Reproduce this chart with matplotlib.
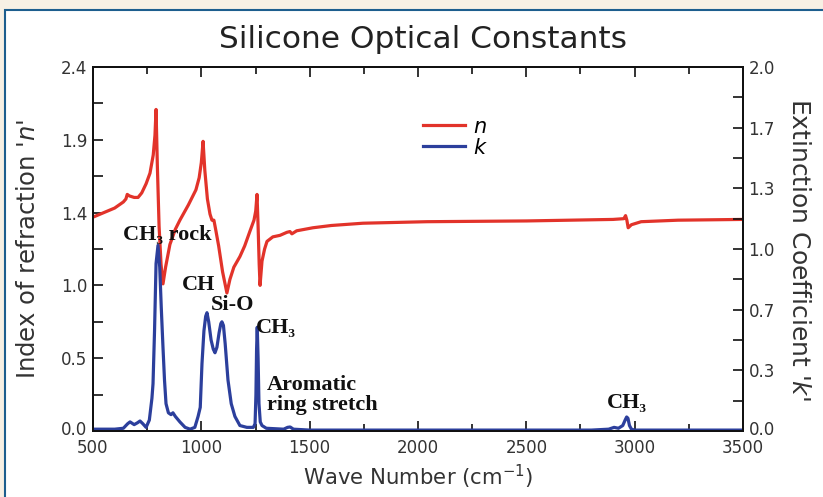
import matplotlib
matplotlib.use("Agg")
import matplotlib.pyplot as plt
from matplotlib.patches import Rectangle
from matplotlib.lines import Line2D
from matplotlib.ticker import FixedLocator, FixedFormatter
from matplotlib.transforms import ScaledTranslation

# ---------------- data ----------------
wn_n = [500, 550, 600, 640, 652, 658, 668, 690, 708, 725, 745, 763, 778, 786, 791,
        797, 805, 814, 823, 835, 855, 880, 901, 940, 975, 990, 1000, 1008,
        1016, 1028, 1040, 1049, 1058, 1066, 1080, 1098, 1118, 1132, 1150, 1178,
        1200, 1225, 1243, 1251, 1257, 1262, 1267, 1271, 1280, 1292, 1303, 1330,
        1363, 1395, 1409, 1418, 1440, 1515, 1600, 1746, 2041, 2500, 2900, 2950,
        2958, 2964, 2970, 2985, 3030, 3200, 3500]
n_vals = [1.41, 1.44, 1.47, 1.51, 1.53, 1.56, 1.55, 1.54, 1.54, 1.57, 1.63, 1.70, 1.82, 1.95, 2.12,
          1.75, 1.35, 1.10, 0.97, 1.08, 1.23, 1.33, 1.39, 1.49, 1.59, 1.67, 1.77, 1.91,
          1.72, 1.53, 1.43, 1.39, 1.39, 1.33, 1.22, 1.05, 0.91, 1.00, 1.08, 1.15,
          1.22, 1.32, 1.39, 1.45, 1.56, 1.35, 1.10, 0.96, 1.12, 1.20, 1.25, 1.28,
          1.29, 1.31, 1.315, 1.30, 1.32, 1.34, 1.355, 1.37, 1.38, 1.385, 1.395, 1.40,
          1.42, 1.39, 1.34, 1.36, 1.38, 1.39, 1.395]

wn_k = [500, 600, 640, 660, 671, 690, 705, 717, 730, 745, 760, 772, 777, 784, 791, 800,
        808, 815, 823, 830, 837, 848, 860, 869, 880, 901, 925, 948, 970, 985,
        995, 1003, 1012, 1020, 1026, 1034, 1045, 1055, 1063, 1072, 1082, 1090,
        1095, 1102, 1110, 1123, 1138, 1155, 1178, 1210, 1240, 1248, 1252, 1255,
        1258, 1262, 1266, 1272, 1280, 1300, 1380, 1398, 1410, 1425, 1500, 2800,
        2880, 2905, 2925, 2945, 2956, 2963, 2969, 2976, 2985, 3000, 3500]
k_vals = [0.01, 0.01, 0.015, 0.04, 0.05, 0.035, 0.045, 0.055, 0.04, 0.02, 0.06, 0.18, 0.26, 0.55, 0.92, 1.02,
          0.90, 0.68, 0.46, 0.28, 0.15, 0.10, 0.09, 0.10, 0.08, 0.05, 0.02, 0.01, 0.02, 0.08,
          0.13, 0.37, 0.55, 0.63, 0.65, 0.60, 0.50, 0.45, 0.43, 0.46, 0.54, 0.59,
          0.60, 0.58, 0.48, 0.28, 0.15, 0.08, 0.03, 0.02, 0.02, 0.04, 0.20, 0.45,
          0.57, 0.40, 0.15, 0.05, 0.03, 0.015, 0.01, 0.02, 0.022, 0.01, 0.005, 0.005,
          0.01, 0.02, 0.015, 0.03, 0.06, 0.077, 0.07, 0.03, 0.01, 0.005, 0.005]

x_ticks = [500, 1000, 1500, 2000, 2500, 3000, 3500]
x_labels = ["500", "1000", "1500", "2000", "2500", "3000", "3500"]
n_ticks = [0.0, 0.48, 0.96, 1.44, 1.92, 2.4]
n_labels = ["0.0", "0.5", "1.0", "1.4", "1.9", "2.4"]
k_ticks = [0.0, 1/3, 2/3, 1.0, 4/3, 5/3, 2.0]
k_labels = ["0.0", "0.3", "0.7", "1.0", "1.3", "1.7", "2.0"]

# annotation texts with their anchor in (wave number, k) units
ann_texts = ["CH\u2083 rock", "CH", "Si-O", "CH\u2083", "Aromatic\nring stretch", "CH\u2083"]
ann_x = [841, 985, 1146, 1252, 1303, 2964]
ann_y = [1.077, 0.80, 0.69, 0.566, 0.198, 0.154]
ann_ha = ["center", "center", "center", "left", "left", "center"]

# ---------------- figure ----------------
RED = "#e2332a"
BLUE = "#2c3f9c"
fig = plt.figure(figsize=(8.23, 4.97), dpi=100, facecolor="#f7f0e4")
fig.patches.append(Rectangle((5/823, -0.1), 1.2, 1 - 10/497 + 0.1,
                             transform=fig.transFigure, facecolor="white",
                             edgecolor="#1d5e8e", linewidth=1.5, zorder=-10))

ax = fig.add_axes([93/823, 1 - 431/497, 650/823, 364/497])
ax.set_facecolor("none")
ax2 = ax.twinx()

ax.plot(wn_n, n_vals, color=RED, lw=2.3, solid_joinstyle="round", zorder=3)
ax2.plot(wn_k, k_vals, color=BLUE, lw=2.3, solid_joinstyle="round", zorder=2)

ax.set_xlim(500, 3500)
ax.set_ylim(0, 2.4)
ax2.set_ylim(0, 2.0)

ax.xaxis.set_major_locator(FixedLocator(x_ticks))
ax.xaxis.set_major_formatter(FixedFormatter(x_labels))
ax.xaxis.set_minor_locator(FixedLocator([t + 250 for t in x_ticks[:-1]]))
ax.yaxis.set_major_locator(FixedLocator(n_ticks))
ax.yaxis.set_major_formatter(FixedFormatter(n_labels))
ax.yaxis.set_minor_locator(FixedLocator([(a + b) / 2 for a, b in zip(n_ticks[:-1], n_ticks[1:])]))
ax2.yaxis.set_major_locator(FixedLocator(k_ticks))
ax2.yaxis.set_major_formatter(FixedFormatter(k_labels))
ax2.yaxis.set_minor_locator(FixedLocator([(a + b) / 2 for a, b in zip(k_ticks[:-1], k_ticks[1:])]))

for a in (ax, ax2):
    for s in a.spines.values():
        s.set_linewidth(1.4)
        s.set_color("#111111")
ax.tick_params(axis="x", which="both", direction="in", top=True, bottom=True,
               labelsize=12, pad=6, width=1.2, colors="#111111", labelcolor="#333333")
ax.tick_params(axis="x", which="major", length=7)
ax.tick_params(axis="x", which="minor", length=5)
for a in (ax, ax2):
    a.tick_params(axis="y", which="both", direction="in", labelsize=12, pad=4, width=1.2,
                  colors="#111111", labelcolor="#333333", length=7)

fig.canvas.draw()
# lift the two "0.0" labels a little, as in the reference
for lab in (ax.get_yticklabels()[0], ax2.get_yticklabels()[0]):
    lab.set_transform(lab.get_transform() + ScaledTranslation(0, 3/100, fig.dpi_scale_trans))

ax.set_xlabel(r"Wave Number (cm$^{-1}$)", fontsize=15.3, color="#333333", labelpad=4)
ax.set_ylabel(r"Index of refraction '$\it{n}$'", fontsize=17.5, color="#333333", labelpad=15)
ax2.set_ylabel(r"Extinction Coefficient '$\it{k}$'", fontsize=18, color="#333333",
               rotation=270, labelpad=26)
fig.text(423/823, 1 - 40/497, "Silicone Optical Constants", fontsize=22.5,
         color="#222222", ha="center", va="center")

for txt, x, y, ha in zip(ann_texts, ann_x, ann_y, ann_ha):
    ax2.text(x, y, txt, fontsize=16, fontweight="bold", color="#111111",
             family=["Liberation Serif", "DejaVu Serif"], ha=ha,
             va="center", linespacing=0.95, zorder=5)

handles = [Line2D([], [], color=RED, lw=2.3), Line2D([], [], color=BLUE, lw=2.3)]
ax.legend(handles, [r"$\it{n}$", r"$\it{k}$"], loc="upper left",
          bbox_to_anchor=(0.479, 0.915), frameon=False, fontsize=15,
          handlelength=2.0, handletextpad=0.4, labelspacing=0.05)

fig.savefig("out.png", dpi=100, facecolor=fig.get_facecolor())
